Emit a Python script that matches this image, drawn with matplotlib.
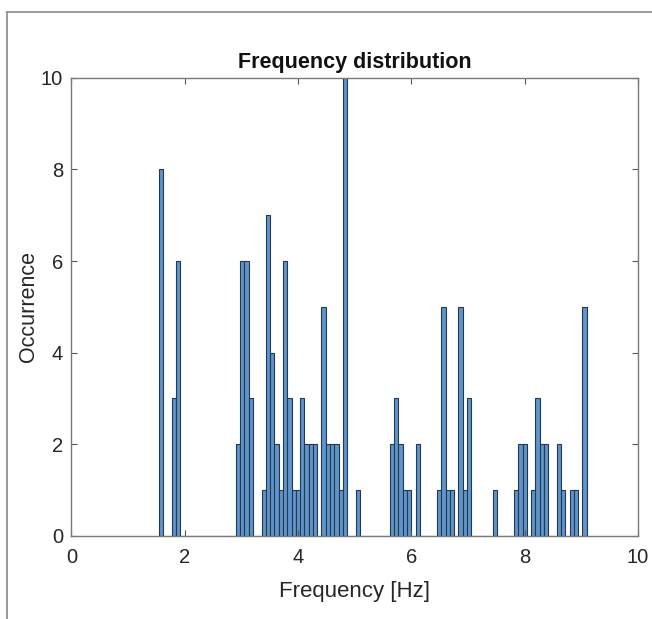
import matplotlib
matplotlib.use("Agg")
import matplotlib.pyplot as plt
from matplotlib.lines import Line2D
import numpy as np

# Histogram data (100 equal bins between x_min and x_max)
x_min = 1.544
x_max = 9.096
counts = [8, 0, 0, 3, 6, 0, 0, 0, 0, 0,
          0, 0, 0, 0, 0, 0, 0, 0, 2, 6,
          6, 3, 0, 0, 1, 7, 4, 2, 1, 6,
          3, 1, 1, 3, 2, 2, 2, 0, 5, 2,
          2, 2, 1, 10, 0, 0, 1, 0, 0, 0,
          0, 0, 0, 0, 2, 3, 2, 1, 1, 0,
          2, 0, 0, 0, 0, 1, 5, 1, 1, 0,
          5, 1, 3, 0, 0, 0, 0, 0, 1, 0,
          0, 0, 0, 1, 2, 2, 0, 1, 3, 2,
          2, 0, 0, 2, 1, 0, 1, 1, 0, 5]
x_ticks = [0, 2, 4, 6, 8, 10]
y_ticks = [0, 2, 4, 6, 8, 10]
title = "Frequency distribution"
xlabel = "Frequency [Hz]"
ylabel = "Occurrence"

plt.rcParams['font.family'] = ['Liberation Sans', 'DejaVu Sans']

fig = plt.figure(figsize=(6.52, 6.19), dpi=100)
ax = fig.add_axes([0.1095, 0.1341, 0.9785 - 0.1095, 0.8745 - 0.1341])

edges = np.linspace(x_min, x_max, len(counts) + 1)
centers = (edges[:-1] + edges[1:]) / 2
ax.hist(centers, bins=edges, weights=counts, facecolor='#5f95cb',
        edgecolor='#243850', linewidth=0.8)

ax.set_xlim(0, 10)
ax.set_ylim(0, 10)
ax.set_xticks(x_ticks)
ax.set_yticks(y_ticks)
ax.tick_params(direction='in', top=True, right=True, length=4,
               labelsize=14.5, labelcolor='#262626', width=0.8, color='#555555')
ax.tick_params(axis='x', pad=9)
ax.tick_params(axis='y', pad=6)
for sp in ax.spines.values():
    sp.set_color('#7a7a7a')
    sp.set_linewidth(1.0)

ax.set_title(title, fontsize=15.5, fontweight='bold', color='#111111', pad=7)
ax.set_xlabel(xlabel, fontsize=16, color='#262626', labelpad=10)
ax.set_ylabel(ylabel, fontsize=15.5, color='#262626', labelpad=1)

# screenshot frame lines
fig.add_artist(Line2D([7 / 652, 7 / 652], [0, 1 - 12 / 619],
                      transform=fig.transFigure, color='#8a8a8a', lw=1.2))
fig.add_artist(Line2D([7 / 652, 1], [1 - 12 / 619, 1 - 12 / 619],
                      transform=fig.transFigure, color='#8a8a8a', lw=1.2))

fig.savefig("out.png", dpi=100)
